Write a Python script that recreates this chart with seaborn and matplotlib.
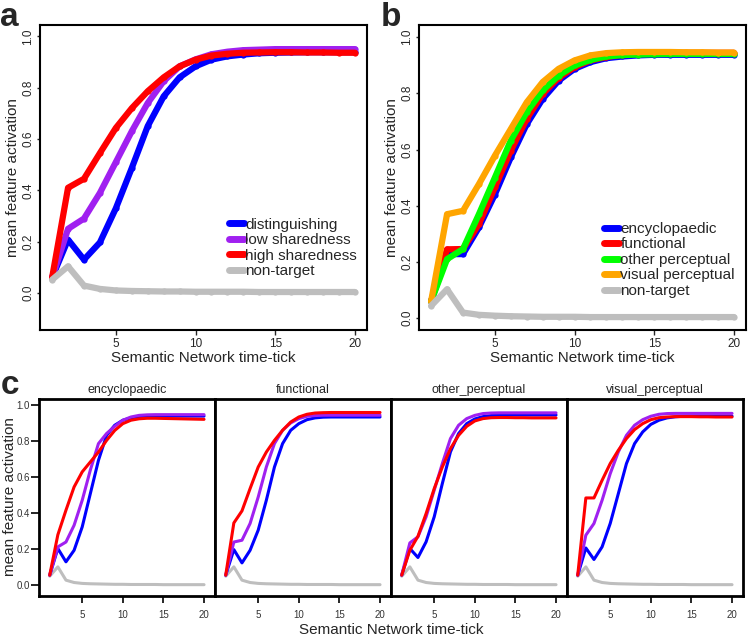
import matplotlib
matplotlib.use("Agg")
import matplotlib.pyplot as plt
from matplotlib.lines import Line2D
import seaborn as sns
import pandas as pd

sns.set_style("ticks")
plt.rcParams["font.family"] = ["Liberation Sans", "DejaVu Sans"]

ticks = list(range(1, 21))

# panel a: feature types by sharedness
a_distinguishing = [0.06, 0.208, 0.13, 0.197, 0.33, 0.487, 0.65, 0.766, 0.84, 0.883,
                    0.909, 0.922, 0.929, 0.934, 0.936, 0.937, 0.938, 0.938, 0.938, 0.938]
a_low = [0.06, 0.25, 0.29, 0.39, 0.51, 0.63, 0.74, 0.825, 0.883, 0.91,
         0.93, 0.94, 0.946, 0.948, 0.95, 0.95, 0.95, 0.95, 0.95, 0.95]
a_high = [0.06, 0.41, 0.445, 0.545, 0.643, 0.72, 0.786, 0.84, 0.883, 0.909,
          0.925, 0.932, 0.936, 0.937, 0.938, 0.938, 0.937, 0.937, 0.936, 0.936]
a_nontarget = [0.052, 0.104, 0.029, 0.016, 0.01, 0.008, 0.007, 0.006, 0.006, 0.005,
               0.005, 0.005, 0.005, 0.004, 0.004, 0.004, 0.004, 0.004, 0.004, 0.004]
a_labels = ["distinguishing", "low sharedness", "high sharedness", "non-target"]
a_colors = ["#0000FF", "#A020F0", "#FF0000", "#BEBEBE"]

# panel b: feature types by knowledge type
b_ency = [0.06, 0.228, 0.228, 0.323, 0.44, 0.572, 0.69, 0.78, 0.845, 0.887,
          0.911, 0.925, 0.931, 0.935, 0.937, 0.937, 0.937, 0.937, 0.937, 0.937]
b_func = [0.06, 0.245, 0.246, 0.335, 0.465, 0.596, 0.709, 0.798, 0.855, 0.893,
          0.917, 0.929, 0.937, 0.941, 0.943, 0.944, 0.944, 0.944, 0.944, 0.944]
b_other = [0.06, 0.21, 0.246, 0.37, 0.5, 0.632, 0.733, 0.81, 0.863, 0.899,
           0.919, 0.931, 0.936, 0.938, 0.939, 0.94, 0.94, 0.94, 0.94, 0.94]
b_visual = [0.06, 0.37, 0.382, 0.477, 0.578, 0.673, 0.768, 0.84, 0.887, 0.917,
            0.935, 0.943, 0.946, 0.947, 0.947, 0.947, 0.946, 0.946, 0.945, 0.945]
b_nontarget = [0.044, 0.103, 0.02, 0.012, 0.009, 0.007, 0.006, 0.005, 0.005, 0.005,
               0.004, 0.004, 0.004, 0.004, 0.004, 0.004, 0.004, 0.004, 0.004, 0.004]
b_labels = ["encyclopaedic", "functional", "other perceptual", "visual perceptual", "non-target"]
b_colors = ["#0000FF", "#FF0000", "#00FF00", "#FFA500", "#BEBEBE"]

# panel c: sharedness within each knowledge type
c_facets = ["encyclopaedic", "functional", "other_perceptual", "visual_perceptual"]
c_groups = ["non-target", "distinguishing", "low sharedness", "high sharedness"]
c_colors = ["#BEBEBE", "#0000FF", "#A020F0", "#FF0000"]
c_nontarget = [0.05, 0.102, 0.028, 0.015, 0.01, 0.008, 0.007, 0.006, 0.005, 0.005,
               0.004, 0.004, 0.004, 0.004, 0.003, 0.003, 0.003, 0.003, 0.003, 0.003]
c_ency_dist = [0.056, 0.204, 0.13, 0.194, 0.324, 0.509, 0.694, 0.833, 0.889, 0.917,
               0.93, 0.937, 0.94, 0.94, 0.94, 0.94, 0.94, 0.94, 0.94, 0.94]
c_ency_low = [0.056, 0.213, 0.24, 0.333, 0.472, 0.64, 0.787, 0.843, 0.883, 0.917,
              0.935, 0.944, 0.947, 0.948, 0.948, 0.948, 0.948, 0.948, 0.948, 0.948]
c_ency_high = [0.056, 0.28, 0.417, 0.546, 0.63, 0.685, 0.74, 0.805, 0.86, 0.898,
               0.917, 0.925, 0.928, 0.928, 0.927, 0.926, 0.925, 0.924, 0.923, 0.922]
c_func_dist = [0.056, 0.198, 0.124, 0.194, 0.306, 0.472, 0.657, 0.787, 0.861, 0.898,
               0.92, 0.93, 0.934, 0.935, 0.935, 0.935, 0.935, 0.935, 0.935, 0.935]
c_func_low = [0.056, 0.24, 0.25, 0.343, 0.49, 0.657, 0.787, 0.861, 0.902, 0.926,
              0.939, 0.943, 0.945, 0.945, 0.945, 0.945, 0.945, 0.945, 0.945, 0.945]
c_func_high = [0.056, 0.346, 0.413, 0.537, 0.657, 0.74, 0.805, 0.861, 0.907, 0.935,
               0.95, 0.957, 0.959, 0.96, 0.96, 0.96, 0.96, 0.96, 0.96, 0.96]
c_other_dist = [0.056, 0.204, 0.154, 0.241, 0.38, 0.565, 0.741, 0.843, 0.898, 0.924,
                0.937, 0.943, 0.945, 0.946, 0.946, 0.946, 0.946, 0.946, 0.946, 0.946]
c_other_low = [0.056, 0.235, 0.269, 0.38, 0.528, 0.676, 0.815, 0.889, 0.926, 0.944,
               0.954, 0.957, 0.958, 0.958, 0.958, 0.958, 0.958, 0.958, 0.958, 0.958]
c_other_high = [0.056, 0.194, 0.272, 0.398, 0.537, 0.657, 0.759, 0.833, 0.883, 0.913,
                0.926, 0.931, 0.932, 0.932, 0.931, 0.931, 0.93, 0.93, 0.93, 0.93]
c_vis_dist = [0.056, 0.207, 0.143, 0.213, 0.343, 0.509, 0.676, 0.787, 0.852, 0.894,
              0.917, 0.93, 0.936, 0.939, 0.94, 0.94, 0.94, 0.94, 0.94, 0.94]
c_vis_low = [0.056, 0.278, 0.343, 0.472, 0.62, 0.741, 0.833, 0.889, 0.92, 0.939,
             0.95, 0.954, 0.955, 0.955, 0.955, 0.955, 0.955, 0.955, 0.955, 0.955]
c_vis_high = [0.056, 0.485, 0.485, 0.583, 0.676, 0.75, 0.815, 0.865, 0.898, 0.92,
              0.931, 0.935, 0.937, 0.937, 0.937, 0.936, 0.936, 0.935, 0.935, 0.935]


def long_df(series, labels):
    rows = []
    for lab, vals in zip(labels, series):
        for t, v in zip(ticks, vals):
            rows.append({"tick": t, "act": v, "group": lab})
    return pd.DataFrame(rows)


def r_panel(ax, df, labels, colors, ylim, legend_anchor):
    sns.lineplot(data=df, x="tick", y="act", hue="group", hue_order=labels,
                 palette=colors, marker="o", markersize=4.5, markeredgewidth=0,
                 linewidth=4.5, legend=False, ax=ax, sort=False)
    ax.set_xlim(0.24, 20.76)
    ax.set_ylim(*ylim)
    ax.set_xticks([5, 10, 15, 20])
    ax.set_yticks([0.0, 0.2, 0.4, 0.6, 0.8, 1.0])
    ax.set_yticklabels(["0.0", "0.2", "0.4", "0.6", "0.8", "1.0"], rotation=90, va="center")
    ax.tick_params(axis="x", labelsize=8.5, length=3.5, width=1, direction="out", pad=2)
    ax.tick_params(axis="y", labelsize=8.5, length=2, width=1, direction="out", pad=2)
    for s in ax.spines.values():
        s.set_visible(True)
        s.set_linewidth(1.5)
        s.set_color("black")
    ax.set_xlabel("Semantic Network time-tick", fontsize=11)
    ax.set_ylabel("mean feature activation", fontsize=11)
    ax.xaxis.label.set_va("center")
    ax.yaxis.label.set_va("center")
    ax.xaxis.set_label_coords(0.5, -0.092)
    ax.yaxis.set_label_coords(-0.084, 0.5)
    handles = [Line2D([0], [0], color=c, lw=5, solid_capstyle="round") for c in colors]
    ax.legend(handles, labels, loc="lower right", bbox_to_anchor=legend_anchor,
              frameon=False, fontsize=11, handlelength=1.0, handletextpad=0.1,
              labelspacing=0.1, borderaxespad=0, borderpad=0)


fig = plt.figure(figsize=(7.5, 6.39), dpi=100)

ax_a = fig.add_axes([40 / 750, 1 - 330 / 639, 327 / 750, 305 / 639])
r_panel(ax_a, long_df([a_distinguishing, a_low, a_high, a_nontarget], a_labels),
        a_labels, a_colors, (-0.144, 1.044), (0.97, 0.17))

ax_b = fig.add_axes([419 / 750, 1 - 330 / 639, 327 / 750, 305 / 639])
r_panel(ax_b, long_df([b_ency, b_func, b_other, b_visual, b_nontarget], b_labels),
        b_labels, b_colors, (-0.042, 1.043), (0.966, 0.105))

c_data = {
    "encyclopaedic": [c_nontarget, c_ency_dist, c_ency_low, c_ency_high],
    "functional": [c_nontarget, c_func_dist, c_func_low, c_func_high],
    "other_perceptual": [c_nontarget, c_other_dist, c_other_low, c_other_high],
    "visual_perceptual": [c_nontarget, c_vis_dist, c_vis_low, c_vis_high],
}
c_lefts = [39, 215, 391, 567]
for i, facet in enumerate(c_facets):
    ax = fig.add_axes([c_lefts[i] / 750, 1 - 596 / 639, 176 / 750, 197 / 639])
    df = long_df(c_data[facet], c_groups)
    sns.lineplot(data=df, x="tick", y="act", hue="group", hue_order=c_groups,
                 palette=c_colors, linewidth=2.2, legend=False, ax=ax, sort=False)
    ax.set_xlim(-0.32, 21.35)
    ax.set_ylim(-0.06, 1.035)
    ax.set_xticks([5, 10, 15, 20])
    ax.set_yticks([0.0, 0.2, 0.4, 0.6, 0.8, 1.0])
    ax.tick_params(axis="x", labelsize=7, length=5, width=1.4, direction="out", pad=5,
                   labelcolor="#333333")
    ax.tick_params(axis="y", labelsize=7, length=5.5, width=1.4, direction="out", pad=1,
                   labelcolor="#333333")
    if i > 0:
        ax.tick_params(axis="y", left=False, labelleft=False)
    else:
        ax.set_yticklabels(["0.0", "0.2", "0.4", "0.6", "0.8", "1.0"])
    for s in ax.spines.values():
        s.set_visible(True)
        s.set_linewidth(2)
        s.set_color("black")
    ax.set_xlabel("")
    ax.set_ylabel("")
    ax.set_title(facet, fontsize=9, pad=4)

fig.text(391 / 750, 1 - 630 / 639, "Semantic Network time-tick", fontsize=11,
         ha="center", va="center")
fig.text(10 / 750, 1 - 497 / 639, "mean feature activation", fontsize=11,
         rotation=90, ha="center", va="center")

fig.text(0 / 750, 1 - 17 / 639, "a", fontsize=24, fontweight="bold", va="center")
fig.text(381 / 750, 1 - 17 / 639, "b", fontsize=24, fontweight="bold", va="center")
fig.text(1 / 750, 1 - 385 / 639, "c", fontsize=24, fontweight="bold", va="center")

fig.savefig("out.png", dpi=100)
